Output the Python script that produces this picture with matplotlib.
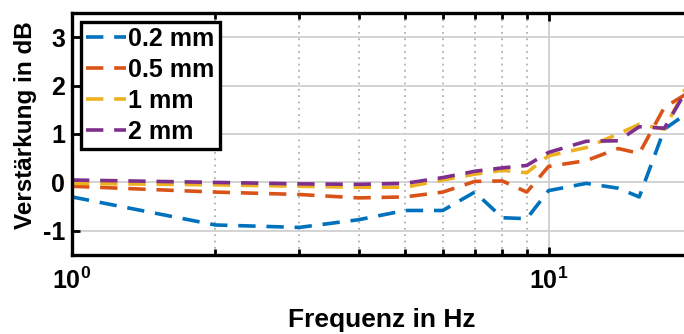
import numpy as np
import matplotlib.pyplot as plt

plt.rcParams['font.family'] = ['Liberation Sans', 'DejaVu Sans']
plt.rcParams['font.weight'] = 'bold'
plt.rcParams['axes.unicode_minus'] = False

# Messdaten
freq = [1, 2, 3, 4, 5, 6, 7, 8, 9, 10, 12, 14, 15.5, 17.5, 20]
gain_02 = [-0.30, -0.88, -0.93, -0.77, -0.58, -0.58, -0.20, -0.73, -0.75,
           -0.17, -0.02, -0.12, -0.30, 1.10, 1.50]
gain_05 = [-0.08, -0.20, -0.25, -0.32, -0.30, -0.20, 0.02, 0.03, -0.20,
           0.33, 0.45, 0.70, 0.60, 1.55, 1.90]
gain_1 = [-0.02, -0.05, -0.08, -0.10, -0.10, 0.05, 0.17, 0.25, 0.20,
          0.55, 0.72, 1.00, 1.20, 1.10, 2.20]
gain_2 = [0.05, 0.00, -0.03, -0.04, -0.02, 0.10, 0.23, 0.30, 0.35,
          0.62, 0.85, 0.86, 1.15, 1.12, 2.10]
labels = ['0.2 mm', '0.5 mm', '1 mm', '2 mm']
colors = ['#0072BD', '#D95319', '#EDB120', '#7E2F8E']

fig = plt.figure(figsize=(6.84, 3.34), dpi=100)
ax = fig.add_axes([72/684, 79/334, 620/684, 242/334])

for g, lab, c in zip([gain_02, gain_05, gain_1, gain_2], labels, colors):
    ax.plot(freq, g, '--', color=c, lw=2.6, dashes=(4.8, 3.0), label=lab)

ax.set_xscale('log')
ax.set_xlim(1, 20)
ax.set_ylim(-1.5, 3.5)
ax.set_yticks([-1, 0, 1, 2, 3])

ax.grid(True, which='major', color='#d0d0d0', lw=1.3, ls='-')
ax.grid(True, which='minor', axis='x', color='#b0b0b0', lw=1.3, ls=(0, (1, 2.5)))
ax.set_axisbelow(True)

for s in ax.spines.values():
    s.set_linewidth(2.4)
ax.tick_params(which='both', direction='in', top=True, right=True,
               width=2, labelsize=18)
ax.tick_params(axis='x', pad=9)
ax.tick_params(axis='y', pad=5)
ax.tick_params(which='major', length=6)
ax.tick_params(which='minor', length=4)

ax.set_xlabel('Frequenz in Hz', fontsize=19, fontweight='bold', labelpad=10)
ax.set_ylabel('Verstärkung in dB', fontsize=17.5, fontweight='bold')
ax.yaxis.set_label_coords(-0.056, 0.535)

leg = ax.legend(loc='upper left', fontsize=18, handlelength=1.6,
                handletextpad=0.1, borderpad=0.2, labelspacing=0.28,
                borderaxespad=0.35, fancybox=False, framealpha=1)
leg.get_frame().set_edgecolor('black')
leg.get_frame().set_linewidth(2.4)

fig.savefig('out.png', dpi=100)
